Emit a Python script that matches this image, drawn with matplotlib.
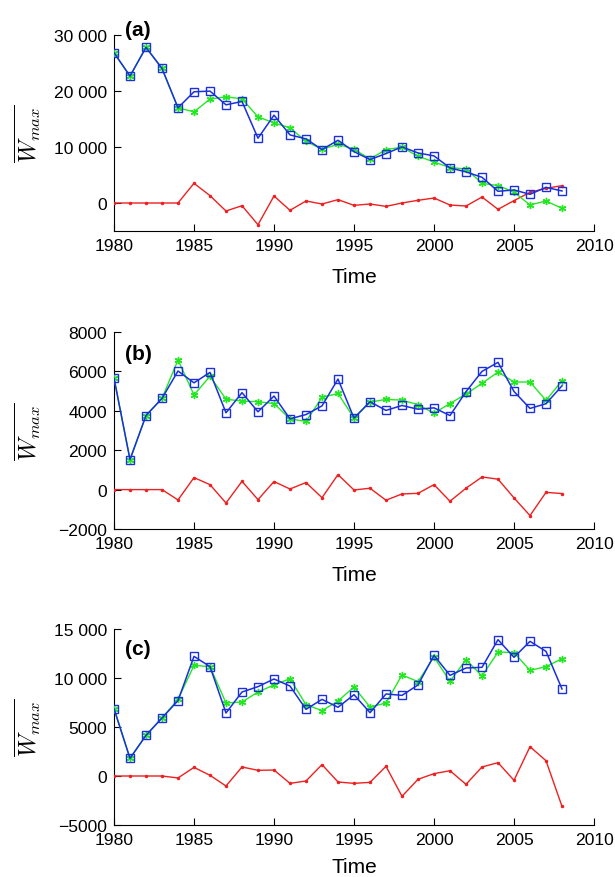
import numpy as np
import matplotlib
matplotlib.use("Agg")
import matplotlib.pyplot as plt
from matplotlib.ticker import FuncFormatter

plt.rcParams["font.family"] = ["Liberation Sans", "DejaVu Sans"]
plt.rcParams["mathtext.fontset"] = "cm"

# ── data ──────────────────────────────────────────────────────────────────
years = list(range(1980, 2009))

blue_a = [26830, 22660, 27790, 24030, 16990, 19860, 19980, 17530, 18130, 11570,
          15680, 12160, 11450, 9540, 11210, 9180, 7750, 8830, 10020, 8940,
          8410, 6260, 5550, 4590, 2090, 2330, 1550, 2800, 2150]
green_a = [26830, 22660, 27790, 24030, 16990, 16280, 18550, 18960, 18600, 15380,
           14310, 13420, 11030, 9600, 10490, 9600, 7870, 9540, 9960, 8350,
           7330, 6320, 6080, 3520, 3100, 1970, -360, 360, -950]
red_a = [0, 0, 0, 0, 0, 3520, 1310, -1430, -480, -3880,
         1250, -1310, 360, -180, 600, -420, -180, -600, 0, 480,
         890, -360, -540, 1070, -1130, 420, 1910, 2620, 3100]

blue_b = [5660, 1525, 3760, 4630, 6020, 5420, 5950, 3900, 4920, 3950,
          4750, 3590, 3810, 4250, 5610, 3630, 4460, 4020, 4270, 4080,
          4150, 3760, 4970, 6000, 6460, 4980, 4120, 4360, 5270]
green_b = [5660, 1525, 3760, 4630, 6580, 4810, 5750, 4590, 4490, 4460,
           4370, 3590, 3460, 4680, 4880, 3630, 4440, 4580, 4540, 4310,
           3880, 4370, 4850, 5390, 5970, 5460, 5460, 4530, 5530]
red_b = [0, 0, 0, 0, -525, 610, 250, -680, 420, -510,
         410, 30, 360, -410, 760, -20, 70, -540, -220, -190,
         250, -590, 70, 640, 530, -420, -1320, -140, -200]

blue_c = [6870, 1800, 4150, 5920, 7690, 12210, 11160, 6430, 8570, 9120,
          9900, 9180, 6800, 7820, 7010, 8300, 6460, 8370, 8230, 9290,
          12310, 10270, 11020, 11090, 13910, 12110, 13740, 12720, 8880]
green_c = [6870, 1800, 4150, 5920, 7820, 11290, 11160, 7450, 7550, 8570,
           9290, 9930, 7280, 6670, 7650, 9080, 7040, 7450, 10310, 9630,
           12140, 9660, 11870, 10200, 12650, 12590, 10780, 11160, 11970]
red_c = [0, 0, 0, 0, -200, 880, 70, -1020, 920, 580,
         610, -750, -510, 1160, -610, -750, -650, 990, -2070, -340,
         240, 540, -850, 920, 1360, -440, 2990, 1560, -3100]

panels = [
    ("(a)", blue_a, green_a, red_a, (-5000, 30000), [0, 10000, 20000, 30000]),
    ("(b)", blue_b, green_b, red_b, (-2000, 8000), [-2000, 0, 2000, 4000, 6000, 8000]),
    ("(c)", blue_c, green_c, red_c, (-5000, 15000), [-5000, 0, 5000, 10000, 15000]),
]
label_pos = [(0.022, 1.03), (0.022, 0.89), (0.022, 0.90)]
time_offset = [51, 51, 47]   # baseline of "Time" below the axis, px

# axes boxes in pixels (left, top, right, bottom) on a 615x878 canvas
W, H = 615, 878
boxes = [(114, 36, 594, 232), (114, 333, 594, 530), (114, 630, 594, 826)]


def fmt(v, pos):
    v = int(round(v))
    if abs(v) >= 10000:
        s = f"{abs(v):,}".replace(",", " ")
        return ("\u2212" if v < 0 else "") + s
    return f"{v}".replace("-", "\u2212")


fig = plt.figure(figsize=(W / 100, H / 100), dpi=100)

for (name, blue, green, red, ylim, yticks), box, lp, toff in zip(
        panels, boxes, label_pos, time_offset):
    l, t, r, b = box
    ax = fig.add_axes([l / W, 1 - b / H, (r - l) / W, (b - t) / H])

    ax.plot(years, red, color="#ee2020", lw=1.0, marker=".", ms=3.0, zorder=3)
    ax.plot(years, green, color="#22e822", lw=1.0, marker=(6, 2, 0), ms=5.2,
            mew=1.0, zorder=4)
    ax.plot(years, blue, color="#1a2fdd", lw=1.1, marker="s", ms=5.6,
            mfc="none", mew=1.0, zorder=5)

    ax.set_xlim(1980, 2010)
    ax.set_ylim(*ylim)
    ax.set_xticks([1980, 1985, 1990, 1995, 2000, 2005, 2010])
    ax.set_yticks(yticks)
    ax.yaxis.set_major_formatter(FuncFormatter(fmt))
    ax.tick_params(direction="in", length=5, labelsize=12.6, pad=5)
    ax.spines["top"].set_visible(False)
    ax.spines["right"].set_visible(False)

    ax.set_xlabel("Time", fontsize=15, va="baseline")
    ax.xaxis.set_label_coords(0.5, -toff / (b - t))
    # y label placed by its centre, left of the tick labels
    ax.text(-86 / (r - l), 0.5, r"$\overline{W_{max}}$", transform=ax.transAxes,
            fontsize=17, rotation=90, ha="center", va="center")
    ax.text(lp[0], lp[1], name, transform=ax.transAxes, fontsize=15,
            fontweight="bold", va="center", ha="left")

fig.savefig("out.png", dpi=100, facecolor="white")
